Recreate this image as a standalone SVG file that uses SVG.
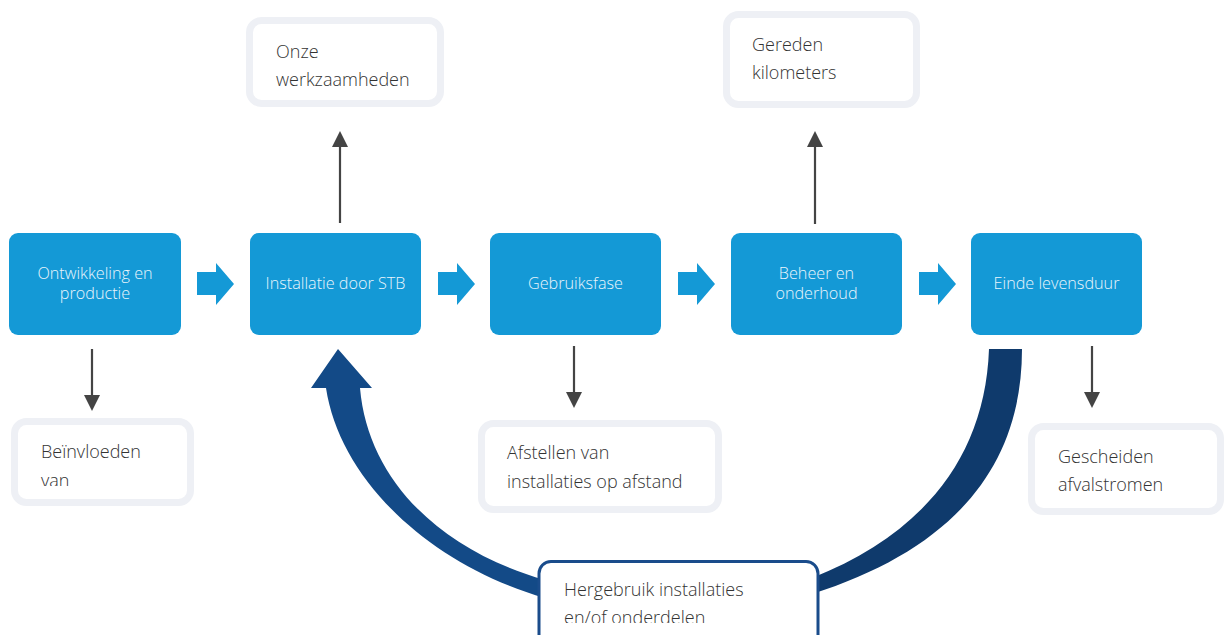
<svg xmlns="http://www.w3.org/2000/svg" width="1225" height="635" viewBox="0 0 1225 635">
<style>
.node rect.b{fill:#1499D6;}
.nt{font-family:"Open Sans","Liberation Sans",sans-serif;font-weight:300;font-size:16.2px;fill:#EAF5FC;text-anchor:middle;}
.ob{fill:#fff;stroke:#EEF0F5;stroke-width:7;}
.ot{font-family:"Open Sans","Liberation Sans",sans-serif;font-weight:300;font-size:18px;fill:#333;}
.gl{stroke:#444;stroke-width:2.2;fill:none;}
.gh{fill:#444;}
.ba{fill:#1499D6;}
</style>
<defs>
<clipPath id="c1"><rect x="0" y="400" width="220" height="86"/></clipPath>
<clipPath id="c2"><rect x="540" y="560" width="280" height="63"/></clipPath>
</defs>

<g id="connectors">
  <polygon class="ba" points="197,272 216,272 216,263 234,284 216,305 216,295 197,295"/>
  <polygon class="ba" points="438,272 457,272 457,263 475,284 457,305 457,295 438,295"/>
  <polygon class="ba" points="678,272 697,272 697,263 715,284 697,305 697,295 678,295"/>
  <polygon class="ba" points="919,272 938,272 938,263 956,284 938,305 938,295 919,295"/>
  <line class="gl" x1="340" y1="223" x2="340" y2="145"/>
  <polygon class="gh" points="340,131 332,147 348,147"/>
  <line class="gl" x1="815" y1="224" x2="815" y2="145"/>
  <polygon class="gh" points="815,131 807,147 823,147"/>
  <line class="gl" x1="92" y1="349" x2="92" y2="396"/>
  <polygon class="gh" points="92,411 84,395 100,395"/>
  <line class="gl" x1="574" y1="346" x2="574" y2="393"/>
  <polygon class="gh" points="574,408 566,392 582,392"/>
  <line class="gl" x1="1092" y1="346" x2="1092" y2="393"/>
  <polygon class="gh" points="1092,408 1084,392 1100,392"/>
  <path fill="#134A87" d="M338,349 L372,388 L360,388 C368,480 440,550 545,580 L545,598 C430,565 340,480 326,388 L311,388 Z"/>
  <path fill="#0F3A6C" d="M1022,349 C1022,470 950,550 812,594 L812,578 C920,535 985,460 989,349 Z"/>
</g>

<g id="n1" class="node"><rect class="b" x="9" y="233" width="172" height="102" rx="9"/>
<text class="nt" x="95" y="279">Ontwikkeling en</text><text class="nt" x="95" y="299">productie</text></g>
<g id="n2" class="node"><rect class="b" x="250" y="233" width="171" height="102" rx="9"/>
<text class="nt" x="335.5" y="289">Installatie door STB</text></g>
<g id="n3" class="node"><rect class="b" x="490" y="233" width="171" height="102" rx="9"/>
<text class="nt" x="575.5" y="289">Gebruiksfase</text></g>
<g id="n4" class="node"><rect class="b" x="731" y="233" width="171" height="102" rx="9"/>
<text class="nt" x="816.5" y="279">Beheer en</text><text class="nt" x="816.5" y="299">onderhoud</text></g>
<g id="n5" class="node"><rect class="b" x="971" y="233" width="171" height="102" rx="9"/>
<text class="nt" x="1056.5" y="289">Einde levensduur</text></g>

<g id="o1"><rect class="ob" x="249.5" y="20.5" width="191" height="83" rx="12"/>
<text class="ot" x="276" y="58">Onze</text><text class="ot" x="276" y="86">werkzaamheden</text></g>
<g id="o2"><rect class="ob" x="726.5" y="14.5" width="190" height="90" rx="12"/>
<text class="ot" x="752" y="51">Gereden</text><text class="ot" x="752" y="79">kilometers</text></g>
<g id="o3"><rect class="ob" x="14.5" y="421.5" width="176" height="81" rx="12"/>
<g clip-path="url(#c1)"><text class="ot" x="41" y="458">Beïnvloeden</text><text class="ot" x="41" y="487">van</text></g></g>
<g id="o4"><rect class="ob" x="481.5" y="423.5" width="237" height="86" rx="12"/>
<text class="ot" x="507" y="459">Afstellen van</text><text class="ot" x="507" y="488">installaties op afstand</text></g>
<g id="o5"><rect class="ob" x="1031.5" y="426.5" width="189" height="85" rx="12"/>
<text class="ot" x="1058" y="463">Gescheiden</text><text class="ot" x="1058" y="491">afvalstromen</text></g>
<g id="o6"><rect x="539" y="561.5" width="279" height="90" rx="12" fill="#fff" stroke="#1A4C8B" stroke-width="3"/>
<g clip-path="url(#c2)"><text class="ot" x="564" y="596">Hergebruik installaties</text><text class="ot" x="564" y="624">en/of onderdelen</text></g></g>
</svg>
